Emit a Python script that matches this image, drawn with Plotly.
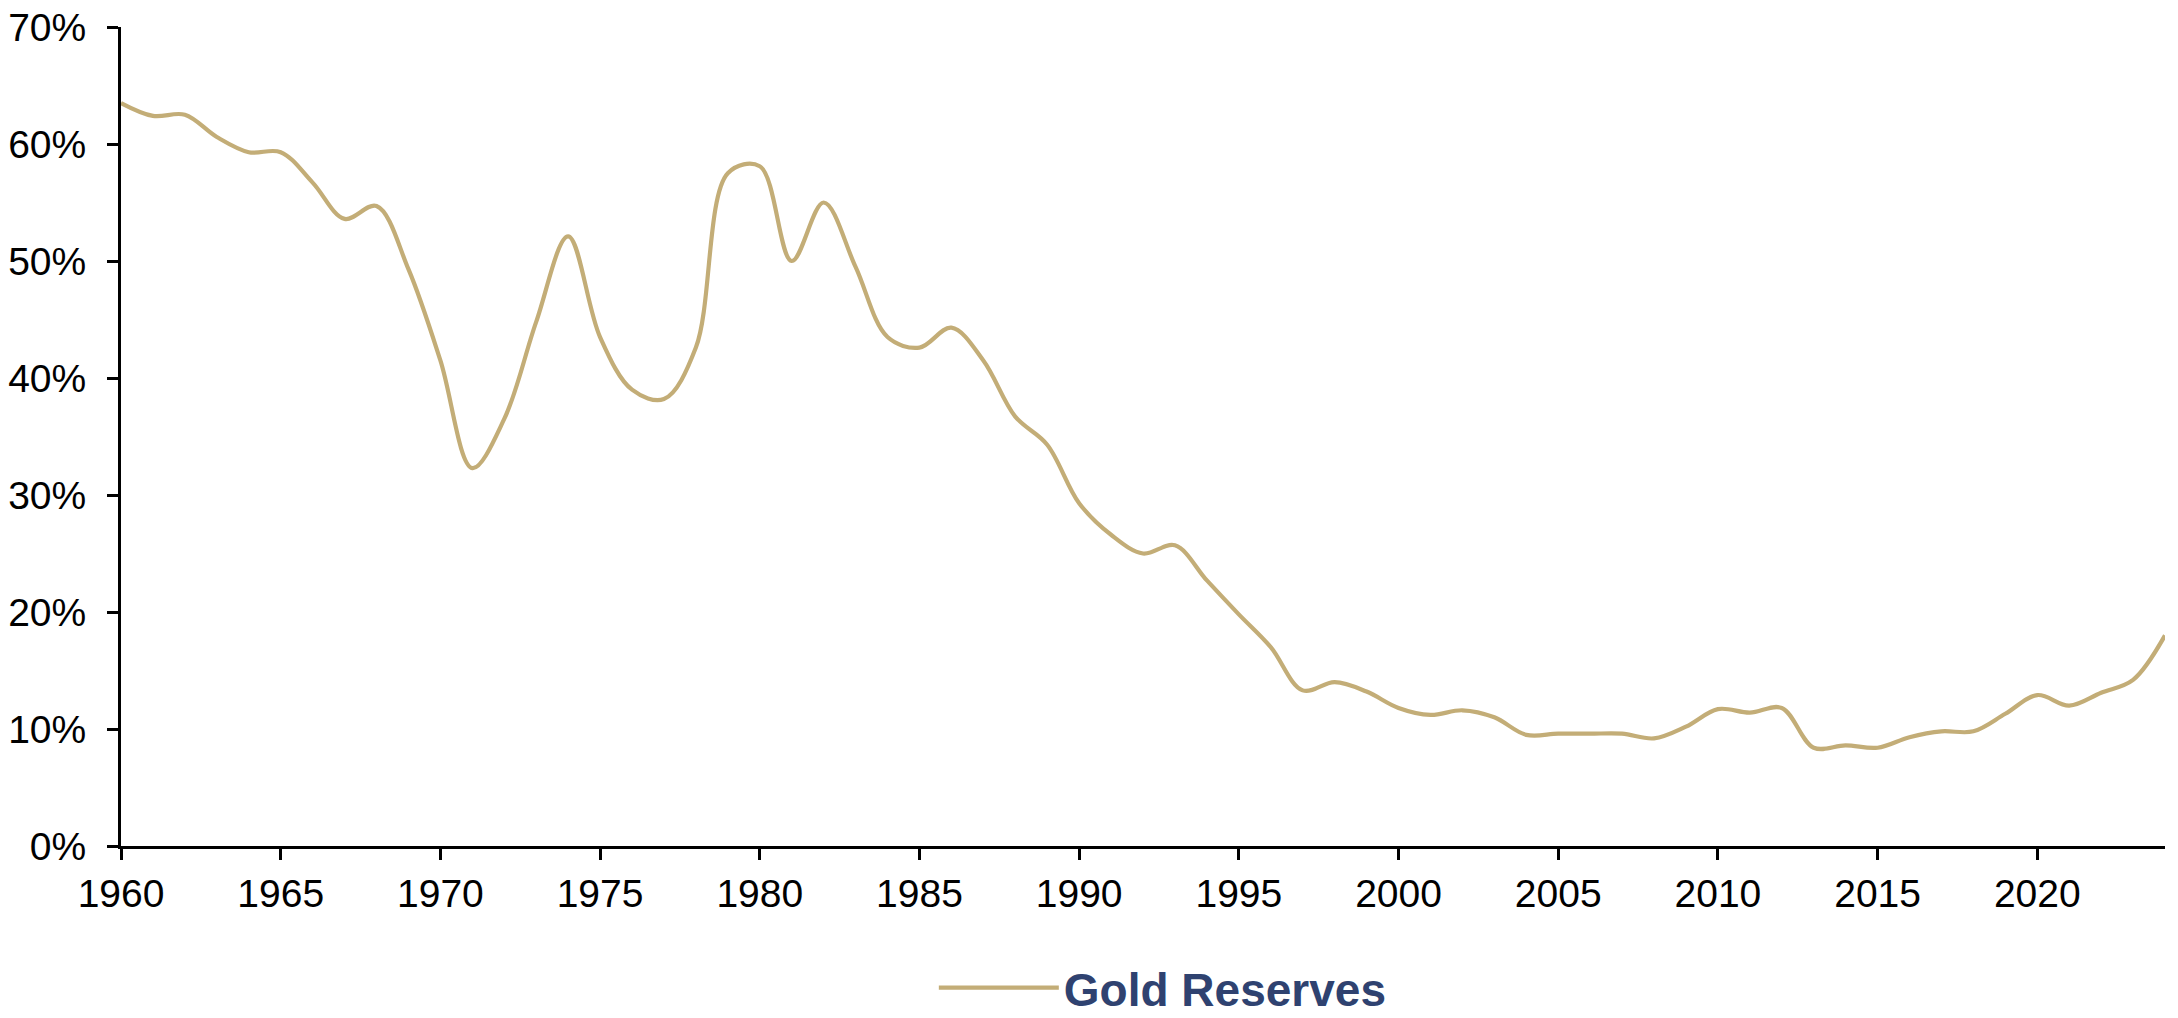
import plotly.graph_objects as go

years = list(range(1960, 2025))
gold_reserves_pct = [
    63.5, 62.4, 62.5, 60.6, 59.3, 59.3, 56.7, 53.6, 54.7, 49.3,
    41.5, 32.3, 36.5, 44.8, 52.1, 43.5, 39.0, 38.2, 42.6, 57.5,
    58.1, 50.0, 55.0, 49.5, 43.5, 42.6, 44.3, 41.5, 36.7, 34.3,
    29.3, 26.6, 25.0, 25.7, 22.7, 19.8, 17.0, 13.3, 14.0, 13.2,
    11.8, 11.2, 11.6, 11.0, 9.5, 9.6, 9.6, 9.6, 9.2, 10.2,
    11.7, 11.4, 11.8, 8.4, 8.6, 8.4, 9.3, 9.8, 9.8, 11.3,
    12.9, 12.0, 13.1, 14.2, 18.0,
]
x_ticks = [1960, 1965, 1970, 1975, 1980, 1985, 1990, 1995, 2000, 2005, 2010, 2015, 2020]
y_ticks = [0, 10, 20, 30, 40, 50, 60, 70]
y_tick_labels = [f"{v}%" for v in y_ticks]

FONT = "Arial, 'Liberation Sans', sans-serif"
LINE_COLOR = "#C3AD77"

fig = go.Figure()
fig.add_trace(go.Scatter(
    x=years, y=gold_reserves_pct, mode="lines", name="Gold Reserves",
    line=dict(color=LINE_COLOR, width=4.2, shape="spline", smoothing=1.0),
))

fig.update_layout(
    width=2178, height=1018,
    margin=dict(l=121, r=13, t=27, b=172, autoexpand=False),
    paper_bgcolor="white", plot_bgcolor="white",
    font=dict(family=FONT, size=39, color="black"),
    showlegend=True,
    legend=dict(
        orientation="h", x=0.5097, xanchor="center", y=-0.173, yanchor="middle",
        font=dict(family=FONT, size=46, color="#2F4270", weight="bold"),
        itemwidth=120, bgcolor="rgba(0,0,0,0)",
    ),
)
fig.update_xaxes(
    range=[1960, 2024], tickvals=x_ticks, ticktext=[str(v) for v in x_ticks],
    showline=True, linecolor="black", linewidth=3, automargin=False,
    ticks="outside", ticklen=11, tickwidth=3, tickcolor="black",
    showgrid=False, zeroline=False, ticklabelstandoff=0,
    tickfont=dict(family=FONT, size=39, color="black"),
)
fig.update_yaxes(
    range=[0, 70], tickvals=y_ticks, ticktext=y_tick_labels,
    showline=True, linecolor="black", linewidth=3, automargin=False,
    ticks="outside", ticklen=11, tickwidth=3, tickcolor="black",
    showgrid=False, zeroline=False, ticklabelstandoff=13,
    tickfont=dict(family=FONT, size=39, color="black"),
)

fig.write_html("out.html")
